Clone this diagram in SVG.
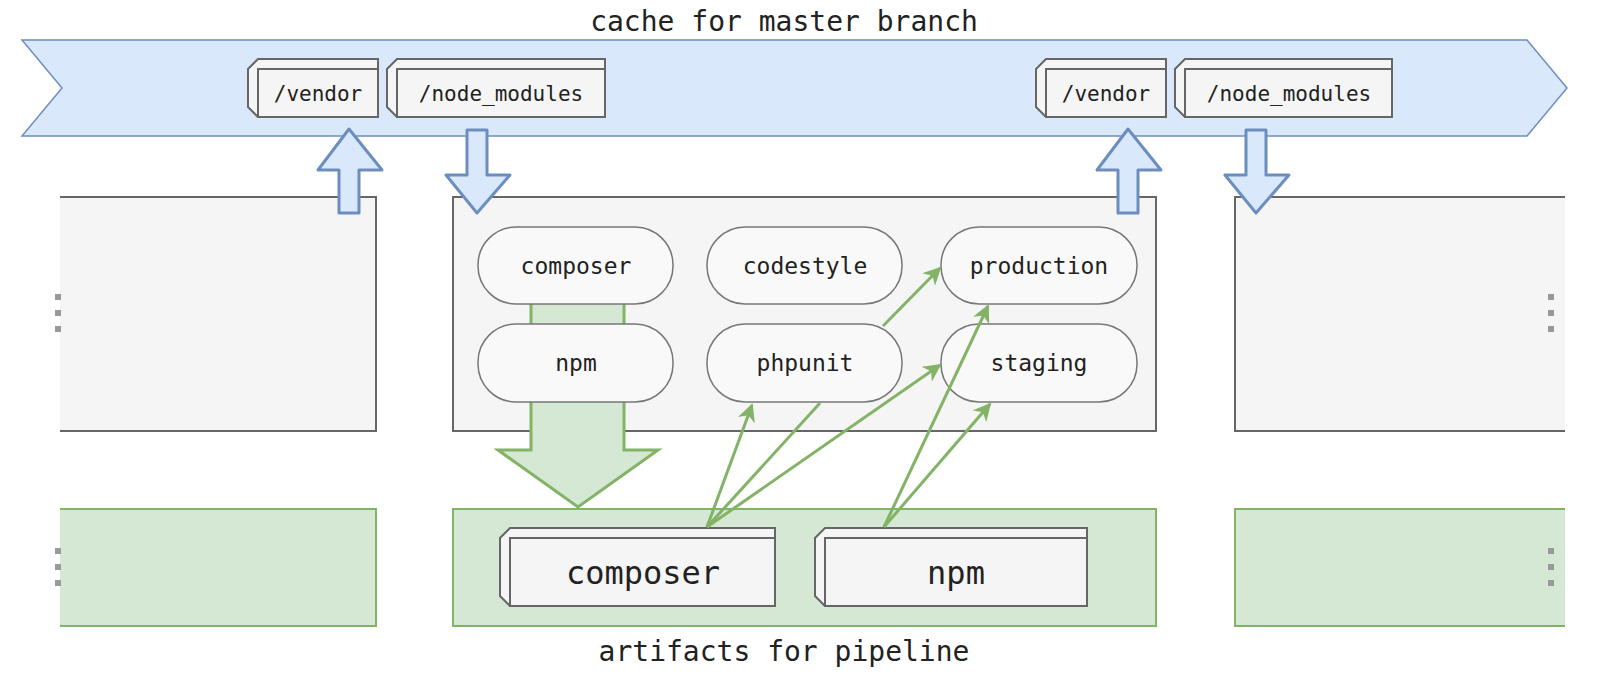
<svg xmlns="http://www.w3.org/2000/svg" width="1604" height="684" viewBox="0 0 1604 684">
<defs>
<style>
text{font-family:"DejaVu Sans Mono","Liberation Mono",monospace;fill:#222;text-anchor:middle}
.t{font-size:28px}
.c{font-size:21px}
.p{font-size:23px}
.big{font-size:32px}
.cube{fill:#f5f5f5;stroke:#666;stroke-width:2}
.pill{fill:#f9f9f9;stroke:#777;stroke-width:1.5}
.blue{fill:#dae8fc;stroke:#6c8ebf;stroke-width:3;stroke-linejoin:round}
.gray{fill:#f5f5f5;stroke:#666;stroke-width:2}
.green{fill:#d5e8d4;stroke:#82b366;stroke-width:2}
.ln{stroke:#82b366;stroke-width:3;fill:none}
.dot{fill:#999}
</style>
<marker id="ah" viewBox="0 0 10 10" refX="9" refY="5" markerWidth="6" markerHeight="6" orient="auto" markerUnits="strokeWidth"><path d="M0,0 L10,5 L0,10 L3,5 Z" fill="#82b366"/></marker>
</defs>
<text class="t" x="784" y="31">cache for master branch</text>
<text class="t" x="784" y="661">artifacts for pipeline</text>
<g id="banner"><polygon points="22,40 1527,40 1567,88 1527,136 22,136 62,88" fill="#dae8fc" stroke="#6c8ebf" stroke-width="1.5"/></g>
<g id="cube-vendor1"><path class="cube" d="M248,69 L258,59 L378,59 L378,117 L258,117 L248,107 Z"/><rect class="cube" x="258" y="69" width="120" height="48"/><text class="c" x="318" y="101">/vendor</text></g>
<g id="cube-nm1"><path class="cube" d="M387,69 L397,59 L605,59 L605,117 L397,117 L387,107 Z"/><rect class="cube" x="397" y="69" width="208" height="48"/><text class="c" x="501" y="101">/node_modules</text></g>
<g id="cube-vendor2"><path class="cube" d="M1036,69 L1046,59 L1166,59 L1166,117 L1046,117 L1036,107 Z"/><rect class="cube" x="1046" y="69" width="120" height="48"/><text class="c" x="1106" y="101">/vendor</text></g>
<g id="cube-nm2"><path class="cube" d="M1175,69 L1185,59 L1392,59 L1392,117 L1185,117 L1175,107 Z"/><rect class="cube" x="1185" y="69" width="207" height="48"/><text class="c" x="1289" y="101">/node_modules</text></g>
<g id="job-left"><rect x="60" y="197" width="316" height="234" fill="#f5f5f5"/><path d="M60,197 H376 V431 H60" class="gray" fill="none"/><rect class="dot" x="55" y="294" width="6" height="6"/><rect class="dot" x="55" y="310" width="6" height="6"/><rect class="dot" x="55" y="326" width="6" height="6"/></g>
<g id="job-center"><rect class="gray" x="453" y="197" width="703" height="234"/></g>
<g id="job-right"><rect x="1235" y="197" width="330" height="234" fill="#f5f5f5"/><path d="M1565,197 H1235 V431 H1565" class="gray" fill="none"/><rect class="dot" x="1548" y="294" width="6" height="6"/><rect class="dot" x="1548" y="310" width="6" height="6"/><rect class="dot" x="1548" y="326" width="6" height="6"/></g>
<g id="art-left"><rect x="60" y="509" width="316" height="117" fill="#d5e8d4"/><path d="M60,509 H376 V626 H60" class="green" fill="none"/><rect class="dot" x="55" y="548" width="6" height="6"/><rect class="dot" x="55" y="564" width="6" height="6"/><rect class="dot" x="55" y="580" width="6" height="6"/></g>
<g id="art-center"><rect class="green" x="453" y="509" width="703" height="117"/></g>
<g id="art-right"><rect x="1235" y="509" width="330" height="117" fill="#d5e8d4"/><path d="M1565,509 H1235 V626 H1565" class="green" fill="none"/><rect class="dot" x="1548" y="548" width="6" height="6"/><rect class="dot" x="1548" y="564" width="6" height="6"/><rect class="dot" x="1548" y="580" width="6" height="6"/></g>
<g id="bigarrow"><polygon points="531,300 624,300 624,450 658,450 578,507 498,450 531,450" fill="#d5e8d4" stroke="#82b366" stroke-width="3" stroke-linejoin="miter"/></g>
<g id="pill-composer"><rect class="pill" x="478" y="227" width="195" height="77" rx="38"/><text class="p" x="576" y="274">composer</text></g>
<g id="pill-codestyle"><rect class="pill" x="707" y="227" width="195" height="77" rx="38"/><text class="p" x="805" y="274">codestyle</text></g>
<g id="pill-production"><rect class="pill" x="941" y="227" width="196" height="77" rx="38"/><text class="p" x="1039" y="274">production</text></g>
<g id="pill-npm"><rect class="pill" x="478" y="324" width="195" height="78" rx="38"/><text class="p" x="576" y="371">npm</text></g>
<g id="pill-phpunit"><rect class="pill" x="707" y="324" width="195" height="78" rx="38"/><text class="p" x="805" y="371">phpunit</text></g>
<g id="pill-staging"><rect class="pill" x="941" y="324" width="196" height="78" rx="38"/><text class="p" x="1039" y="371">staging</text></g>
<g id="cube-composer"><path class="cube" d="M500,538 L510,528 L775,528 L775,606 L510,606 L500,596 Z"/><rect class="cube" x="510" y="538" width="265" height="68"/><text class="big" x="643" y="584">composer</text></g>
<g id="cube-npm"><path class="cube" d="M815,538 L825,528 L1087,528 L1087,606 L825,606 L815,596 Z"/><rect class="cube" x="825" y="538" width="262" height="68"/><text class="big" x="956" y="584">npm</text></g>
<g id="connectors">
<polygon class="blue" points="339,213 359,213 359,170 382,170 349,129 318,170 339,170"/>
<polygon class="blue" points="467,130 487,130 487,175 510,175 477,213 446,175 467,175"/>
<polygon class="blue" points="1118,213 1138,213 1138,170 1161,170 1128,129 1097,170 1118,170"/>
<polygon class="blue" points="1246,130 1266,130 1266,175 1289,175 1256,213 1225,175 1246,175"/>
<line class="ln" x1="707" y1="527" x2="752" y2="405" marker-end="url(#ah)"/>
<line class="ln" x1="707" y1="527" x2="820" y2="403"/>
<line class="ln" x1="707" y1="527" x2="940" y2="365" marker-end="url(#ah)"/>
<line class="ln" x1="883" y1="326" x2="940" y2="268" marker-end="url(#ah)"/>
<line class="ln" x1="884" y1="527" x2="988" y2="306" marker-end="url(#ah)"/>
<line class="ln" x1="884" y1="527" x2="990" y2="404" marker-end="url(#ah)"/>
</g>
</svg>
